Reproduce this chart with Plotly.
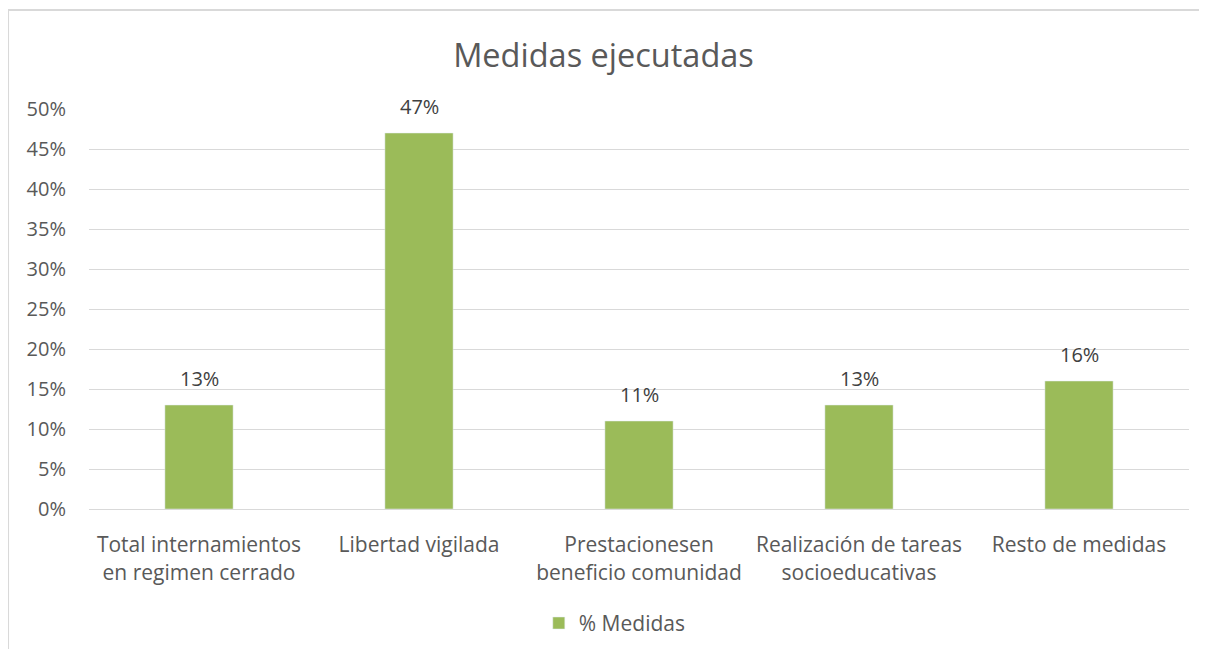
import plotly.graph_objects as go

categories = [
    "Total internamientos<br>en regimen cerrado",
    "Libertad vigilada",
    "Prestacionesen<br>beneficio comunidad",
    "Realización de tareas<br>socioeducativas",
    "Resto de medidas",
]
medidas = [0.13, 0.47, 0.11, 0.13, 0.16]
labels = ["13%", "47%", "11%", "13%", "16%"]

fig = go.Figure()
fig.add_trace(go.Bar(
    x=categories,
    y=medidas,
    name="% Medidas",
    marker_color="#9BBB59",
    width=0.31,
))

# data labels sit a bit above the bars, like the Excel original
for cat, val, lab in zip(categories, medidas, labels):
    fig.add_annotation(x=cat, y=val, text=lab, showarrow=False,
                       yanchor="middle", yshift=27,
                       font=dict(size=20, color="#404040"))

# page has an 8px body margin, so the figure is drawn 16px smaller
fig.update_layout(
    width=1191,
    height=641,
    font=dict(family="Open Sans", color="#595959"),
    title=dict(text="Medidas ejecutadas", x=0.5, xanchor="center", y=0.925, yanchor="middle",
               font=dict(size=32.5, color="#595959")),
    paper_bgcolor="white",
    plot_bgcolor="white",
    margin=dict(l=81, r=10, t=101, b=140, autoexpand=False),
    showlegend=True,
    legend=dict(orientation="h", x=0.478, xanchor="center", yref="container", y=0.04,
                yanchor="middle", font=dict(size=21, color="#595959")),
    bargap=0.69,
)
fig.update_yaxes(
    range=[0, 0.5],
    dtick=0.05,
    tickformat=".0%",
    gridcolor="#D9D9D9",
    gridwidth=1,
    zeroline=False,
    tickfont=dict(size=20, color="#595959"),
    ticklabelstandoff=22,
)
fig.update_xaxes(
    showline=True,
    linecolor="#D9D9D9",
    tickfont=dict(size=21, color="#595959"),
    ticklabelstandoff=17,
)
# chart frame: left, top and right edges (bottom is off the picture)
fig.add_shape(type="path", xref="paper", yref="paper",
              path="M -0.0736,-0.6 L -0.0736,1.2475 L 1.01,1.2475 L 1.01,-0.6",
              line=dict(color="#D9D9D9", width=2))

fig.write_html("out.html")
